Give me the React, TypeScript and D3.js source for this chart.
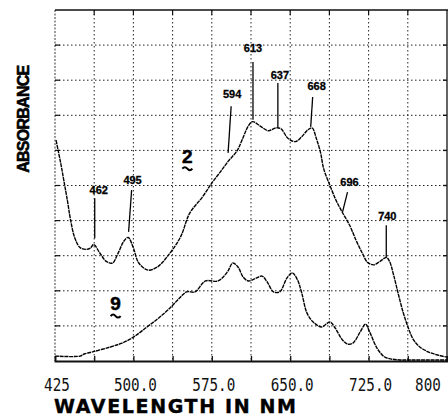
import React, { useEffect, useRef } from 'react';
import * as d3 from 'd3';

// spectrum of compound 2 (wavelength nm, absorbance as fraction of full scale)
const wl2 = [426, 428, 431, 434, 437, 440, 444, 449, 455, 459, 462, 468, 474, 480, 485, 491, 495, 500, 505, 514, 523, 532, 545, 554, 566, 575, 583, 591, 599, 604, 610, 614, 621, 629, 636, 641, 648, 655, 661, 667, 671, 675, 679, 682, 688, 694, 700, 707, 713, 719, 724, 730, 736, 742, 745, 749, 753, 758, 763, 768, 774, 782, 791, 800];
const abs2 = [0.629, 0.600, 0.555, 0.505, 0.455, 0.400, 0.350, 0.323, 0.318, 0.322, 0.332, 0.307, 0.284, 0.279, 0.305, 0.342, 0.352, 0.322, 0.280, 0.259, 0.268, 0.296, 0.353, 0.422, 0.467, 0.507, 0.538, 0.570, 0.598, 0.630, 0.670, 0.682, 0.670, 0.656, 0.664, 0.662, 0.634, 0.625, 0.639, 0.659, 0.664, 0.634, 0.594, 0.548, 0.500, 0.457, 0.423, 0.386, 0.344, 0.307, 0.281, 0.274, 0.284, 0.295, 0.284, 0.244, 0.196, 0.139, 0.094, 0.060, 0.040, 0.026, 0.017, 0.011];

// spectrum of compound 9
const wl9 = [425, 449, 453, 461, 478, 489, 500, 513, 524, 535, 545, 551, 559, 569, 581, 590, 595, 600, 605, 610, 616, 623, 628, 634, 640, 647, 652, 657, 661, 666, 672, 680, 688, 693, 700, 705, 710, 717, 722, 726, 733, 740, 746, 755, 765, 800];
const abs9 = [0.014, 0.014, 0.020, 0.026, 0.040, 0.051, 0.068, 0.097, 0.122, 0.151, 0.182, 0.197, 0.197, 0.228, 0.228, 0.254, 0.279, 0.268, 0.239, 0.228, 0.234, 0.242, 0.225, 0.197, 0.197, 0.237, 0.251, 0.231, 0.194, 0.137, 0.111, 0.097, 0.111, 0.094, 0.060, 0.048, 0.051, 0.083, 0.105, 0.083, 0.037, 0.012, 0.006, 0.003, 0.003, 0.003];

const xTickVals = [425, 500, 575, 650, 725, 800];
const xTickLabels = ['425', '500.0', '575.0', '650.0', '725.0', '800'];
const xGrid = d3.range(0, 11).map(i => 425 + i * 37.5);
const yGrid = d3.range(0, 11).map(i => i / 10);

// peak labels: leader line from (x1,y1) under the label to (x0,y0) on the curve, label centre (tx,ty)
const peakText = ['462', '495', '594', '613', '637', '668', '696', '740'];
const peakX0 = [463, 495.4, 590.6, 614.4, 638.2, 669.6, 700.1, 741.9];
const peakY0 = [0.350, 0.368, 0.593, 0.687, 0.667, 0.667, 0.425, 0.296];
const peakX1 = [463, 498.3, 593.5, 614.4, 638.2, 671.5, 704.8, 741.9];
const peakY1 = [0.464, 0.487, 0.726, 0.852, 0.792, 0.752, 0.481, 0.387];
const peakTX = [466.9, 499.2, 594.4, 614.4, 640.1, 675.3, 706.7, 742.9];
const peakTY = [0.484, 0.513, 0.758, 0.889, 0.812, 0.781, 0.507, 0.410];

const seriesNames = ['2', '9'];
const seriesLabelX = [551.6, 483];
const seriesLabelY = [0.565, 0.145];

const App = () => {
  const svgRef = useRef<SVGSVGElement>(null);

  useEffect(() => {
    const svg = d3.select(svgRef.current);
    svg.selectAll('*').remove();

    const x = d3.scaleLinear().domain([425, 800]).range([55, 447]);
    const y = d3.scaleLinear().domain([0, 1]).range([361, 10]);

    // dotted grid
    const grid = svg.append('g').attr('stroke', '#222').attr('stroke-width', 1).attr('stroke-dasharray', '1.5,2.5');
    grid.selectAll('.vg').data(xGrid.slice(1, -1)).enter().append('line')
      .attr('x1', d => x(d)).attr('x2', d => x(d)).attr('y1', y(1)).attr('y2', y(0));
    grid.selectAll('.hg').data(yGrid.slice(1, -1)).enter().append('line')
      .attr('x1', x(425)).attr('x2', x(800)).attr('y1', d => y(d)).attr('y2', d => y(d));

    // frame
    svg.append('line').attr('x1', x(425)).attr('x2', x(425)).attr('y1', y(1)).attr('y2', y(0))
      .attr('stroke', '#222').attr('stroke-width', 0.9).attr('stroke-dasharray', '2,1.5');
    svg.append('line').attr('x1', x(425)).attr('x2', x(800) + 1).attr('y1', y(1)).attr('y2', y(1))
      .attr('stroke', '#111').attr('stroke-width', 1.6);
    svg.append('line').attr('x1', x(800)).attr('x2', x(800)).attr('y1', y(1)).attr('y2', y(0))
      .attr('stroke', '#111').attr('stroke-width', 1.3);

    // small ticks on top, left and right edges
    svg.append('g').selectAll('line').data(xGrid.slice(1, -1)).enter().append('line')
      .attr('x1', d => x(d)).attr('x2', d => x(d)).attr('y1', y(1)).attr('y2', y(1) + 5)
      .attr('stroke', '#111').attr('stroke-width', 1.2);
    svg.append('g').selectAll('line').data(yGrid.slice(1, -1)).enter().append('line')
      .attr('x1', x(425)).attr('x2', x(425) + 5).attr('y1', d => y(d)).attr('y2', d => y(d))
      .attr('stroke', '#111').attr('stroke-width', 1.2);
    svg.append('g').selectAll('line').data(yGrid.slice(1, -1)).enter().append('line')
      .attr('x1', x(800) - 4).attr('x2', x(800)).attr('y1', d => y(d)).attr('y2', d => y(d))
      .attr('stroke', '#111').attr('stroke-width', 1.4);

    // bottom axis
    const xAxis = svg.append('g').attr('transform', `translate(0,${y(0)})`)
      .call(d3.axisBottom(x).tickValues(xGrid).tickSize(-5).tickFormat(() => ''));
    xAxis.select('.domain').attr('stroke', '#111').attr('stroke-width', 1.8);
    xAxis.selectAll('line').attr('stroke', '#111').attr('stroke-width', 1.3);

    svg.append('g').selectAll('text').data(xTickVals).enter().append('text')
      .attr('x', d => Math.min(x(d) + 2, 428))
      .attr('y', y(0) + 30)
      .attr('text-anchor', 'middle')
      .attr('font-family', 'DejaVu Sans Mono, monospace')
      .attr('font-size', '17px')
      .attr('textLength', (d, i) => xTickLabels[i].length * 8.6)
      .attr('lengthAdjust', 'spacingAndGlyphs')
      .attr('fill', '#111')
      .text((d, i) => xTickLabels[i]);

    // spectra
    const path = d3.line().curve(d3.curveCatmullRom.alpha(0.5));
    const pts2 = wl2.map((w, i) => [x(w), y(abs2[i])] as [number, number]);
    const pts9 = wl9.map((w, i) => [x(w), y(abs9[i])] as [number, number]);
    [pts2, pts9].forEach(p => {
      svg.append('path').attr('d', path(p)).attr('fill', 'none')
        .attr('stroke', '#000').attr('stroke-width', 1.4)
        .attr('stroke-dasharray', '4,0.7');
    });

    // peak annotations
    peakText.forEach((t, i) => {
      svg.append('line')
        .attr('x1', x(peakX1[i])).attr('y1', y(peakY1[i]))
        .attr('x2', x(peakX0[i])).attr('y2', y(peakY0[i]))
        .attr('stroke', '#000').attr('stroke-width', 1.3);
      svg.append('text')
        .attr('x', x(peakTX[i])).attr('y', y(peakTY[i]))
        .attr('text-anchor', 'middle').attr('dominant-baseline', 'middle')
        .attr('font-family', 'Liberation Sans, Arial, sans-serif')
        .attr('font-weight', 'bold').attr('font-size', '11px')
        .attr('stroke', '#000').attr('stroke-width', 0.3)
        .text(t);
    });

    // compound numbers with tilde underline
    seriesNames.forEach((n, i) => {
      const cx = x(seriesLabelX[i]);
      const cy = y(seriesLabelY[i]);
      svg.append('text')
        .attr('x', cx).attr('y', cy)
        .attr('text-anchor', 'middle')
        .attr('font-family', 'Liberation Sans, Arial, sans-serif')
        .attr('font-weight', 'bold').attr('font-size', '19px')
        .attr('stroke', '#000').attr('stroke-width', 0.5)
        .text(n);
      svg.append('path')
        .attr('d', `M${cx - 5},${cy + 6} q2.5,-3 5,0 t5,0`)
        .attr('fill', 'none').attr('stroke', '#000').attr('stroke-width', 2);
    });

    // axis titles
    svg.append('text')
      .attr('transform', `translate(29,${(y(0.84) + y(0.54)) / 2}) rotate(-90)`)
      .attr('text-anchor', 'middle')
      .attr('font-family', 'Liberation Sans, Arial, sans-serif')
      .attr('font-weight', 'bold').attr('font-size', '16px')
      .attr('stroke', '#000').attr('stroke-width', 0.6)
      .attr('textLength', 108).attr('lengthAdjust', 'spacing')
      .text('ABSORBANCE');
    svg.append('text')
      .attr('x', 54).attr('y', 413)
      .attr('font-family', 'DejaVu Sans, sans-serif')
      .attr('font-weight', 'bold').attr('font-size', '19px')
      .attr('stroke', '#000').attr('stroke-width', 0.4)
      .attr('textLength', 242).attr('lengthAdjust', 'spacing')
      .text('WAVELENGTH IN NM');
  }, []);

  return (
    <svg ref={svgRef} width={448} height={418} viewBox="0 0 448 418"
      style={{ position: 'absolute', left: 0, top: 0, background: 'white', display: 'block' }} />
  );
};

export default App;
